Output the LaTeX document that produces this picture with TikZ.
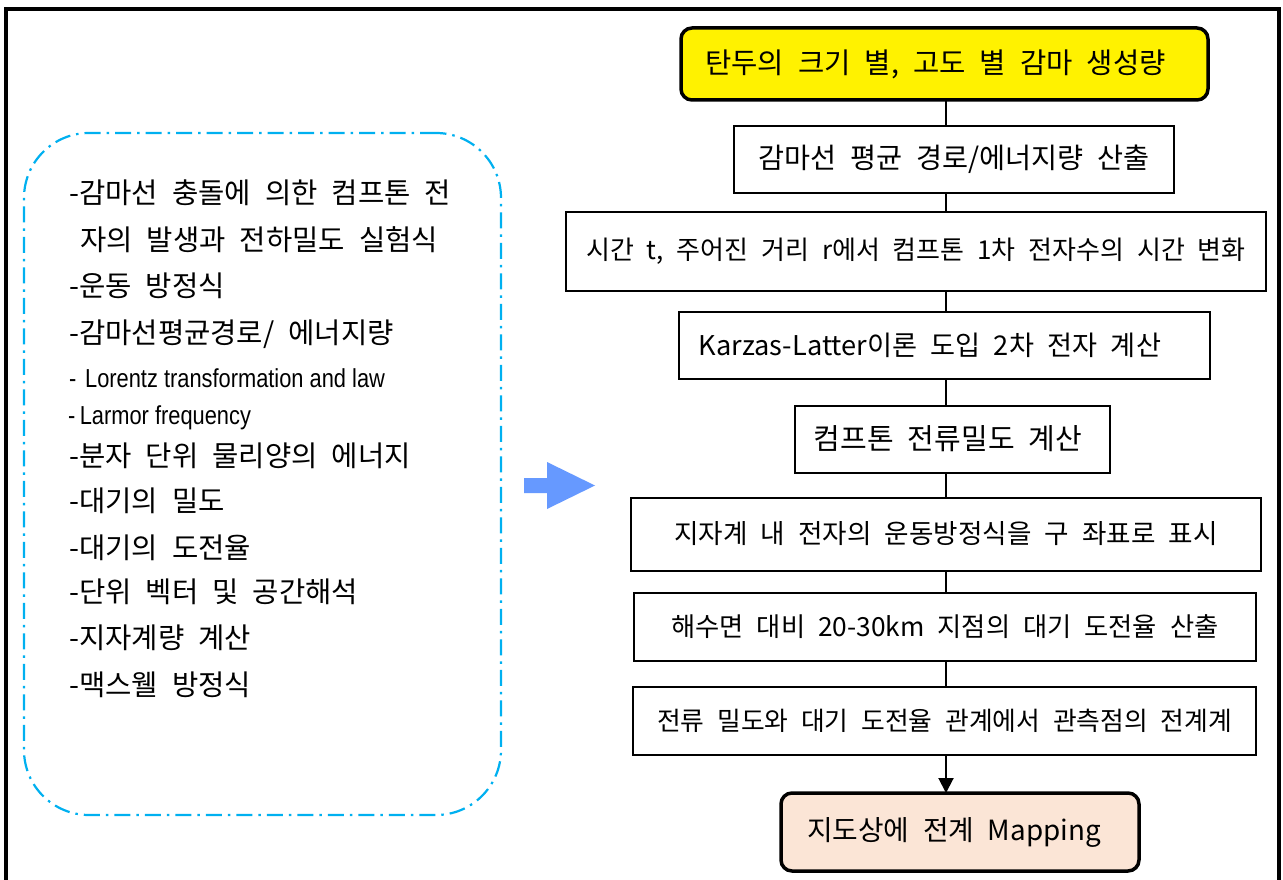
\documentclass[tikz,border=0pt]{standalone}
\usepackage{fontspec}
\setmainfont[WordSpace=2.2]{Noto Sans CJK KR}
\newfontfamily\narrowfont[FakeStretch=0.84]{Liberation Sans}
\usetikzlibrary{arrows.meta}
\definecolor{dashcyan}{HTML}{00B0F0}
\definecolor{arrowblue}{HTML}{6699FF}
\definecolor{peach}{HTML}{FBE5D6}
\newcommand{\fsz}[1]{\fontsize{#1}{#1}\selectfont}
\tikzset{
  flowbox/.style={draw=black, line width=2pt, fill=white, minimum height=67pt, inner sep=0pt, outer sep=0pt},
  roundbox/.style={flowbox, rounded corners=11pt, line width=3.5pt},
  itemtext/.style={anchor=base west, inner sep=0pt, font=\fsz{28.6}},
  smalltext/.style={anchor=base west, inner sep=0pt, font=\narrowfont\fsz{26}},
  link/.style={line width=2pt},
}
\begin{document}
\begin{tikzpicture}[x=1pt,y=-1pt]
\useasboundingbox (0,0) rectangle (1283,880);
\fill[white] (0,0) rectangle (1283,880);
% outer frame
\draw[line width=3.5pt] (6,880) -- (6,9) -- (1279,9) -- (1279,880);

% left dash-dot box
\node[draw=dashcyan, line width=2.2pt, dash pattern=on 16pt off 6pt on 2.5pt off 6pt,
      rounded corners=65pt, minimum width=477pt, minimum height=682pt, inner sep=0pt] (lbox) at (262.5,474) {};

\node[itemtext] (l1) at (69,204) {-감마선 충돌에 의한 컴프톤 전};
\node[itemtext] (l2) at (80,250) {자의 발생과 전하밀도 실험식};
\node[itemtext] (l3) at (69,296.5) {-운동 방정식};
\node[itemtext] (l4) at (69,343) {-감마선평균경로/ 에너지량};
\node[smalltext] (l5) at (69,387.5) {-\,\,Lorentz transformation and law};
\node[smalltext] (l6) at (68,424.5) {-\,Larmor frequency};
\node[itemtext] (l7) at (69,466.5) {-분자 단위 물리양의 에너지};
\node[itemtext] (l8) at (69,511.5) {-대기의 밀도};
\node[itemtext] (l9) at (69,558.5) {-대기의 도전율};
\node[itemtext] (l10) at (69,602.5) {-단위 벡터 및 공간해석};
\node[itemtext] (l11) at (69,648.5) {-지자계량 계산};
\node[itemtext] (l12) at (69,695.5) {-맥스웰 방정식};

% blue block arrow
\fill[arrowblue] (524,478) -- (547,478) -- (547,462) -- (595,485.5) -- (547,509) -- (547,493) -- (524,493) -- cycle;

% flow boxes
\coordinate (cx) at (946,0);
\node[roundbox, fill=yellow, minimum width=527pt, minimum height=72pt, font=\fsz{28.6}] (b1) at (944.5,64) {\raisebox{-5pt}{탄두의 크기 별, 고도 별 감마 생성량}\hspace*{18pt}};
\node[flowbox, minimum width=440pt, font=\fsz{28.3}] (b2) at (954,159.5) {감마선 평균 경로/에너지량 산출};
\node[flowbox, minimum width=700pt, minimum height=79pt, font=\fsz{26}] (b3) at (916,251.5) {시간 t, 주어진 거리 r에서 컴프톤 1차 전자수의 시간 변화};
\node[flowbox, minimum width=531pt, font=\fsz{27.2}] (b4) at (944,345.5) {Karzas-Latter이론 도입 2차 전자 계산\hspace*{28pt}};
\node[flowbox, minimum width=315pt, font=\fsz{29}] (b5) at (952,439) {컴프톤 전류밀도 계산\hspace*{8pt}};
\node[flowbox, minimum width=630pt, minimum height=73pt, font=\fsz{26.6}] (b6) at (946,534) {지자계 내 전자의 운동방정식을 구 좌표로 표시};
\node[flowbox, minimum width=622pt, minimum height=68pt, font=\fsz{26.3}] (b7) at (945,627) {해수면 대비 20-30km 지점의 대기 도전율 산출};
\node[flowbox, minimum width=623pt, minimum height=68pt, font=\fsz{25.8}] (b8) at (944.5,721) {전류 밀도와 대기 도전율 관계에서 관측점의 전계계};
\node[roundbox, fill=peach, minimum width=358pt, minimum height=78pt, font=\fsz{27.8}] (b9) at (960,832) {지도상에 전계 Mapping\hspace*{12pt}};

% connectors
\draw[link] (b1.south -| cx) -- (b2.north -| cx);
\draw[link] (b2.south -| cx) -- (b3.north -| cx);
\draw[link] (b3.south -| cx) -- (b4.north -| cx);
\draw[link] (b4.south -| cx) -- (b5.north -| cx);
\draw[link] (b5.south -| cx) -- (b6.north -| cx);
\draw[link] (b6.south -| cx) -- (b7.north -| cx);
\draw[link] (b7.south -| cx) -- (b8.north -| cx);
\draw[link, -{Triangle[length=15pt,width=15pt]}] (b8.south -| cx) -- (b9.north -| cx);
\end{tikzpicture}
\end{document}
